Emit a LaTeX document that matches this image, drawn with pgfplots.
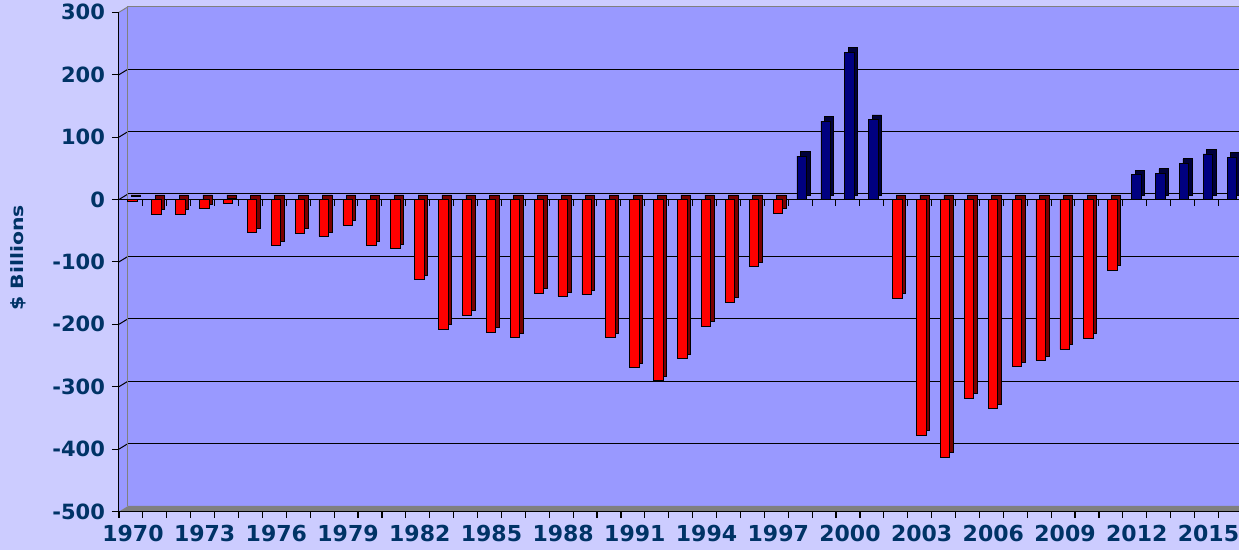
\documentclass[border=0pt]{standalone}
\usepackage{fontspec}
\setmainfont{DejaVu Sans}
\newfontfamily\ylabfont[FakeStretch=1.2]{DejaVu Sans}
\usepackage{pgfplots}
\pgfplotsset{compat=1.18}
\usepackage{pgfplotstable}
\definecolor{bgcol}{HTML}{CCCCFF}
\definecolor{wallcol}{HTML}{9999FF}
\definecolor{txtcol}{HTML}{003366}
\definecolor{barred}{HTML}{FF0000}
\definecolor{barreddk}{HTML}{7A0000}
\definecolor{barblue}{HTML}{000080}
\definecolor{barbluedk}{HTML}{00003A}
\definecolor{floorcol}{HTML}{808080}

% idx = year - 1970
\pgfplotstableread{
idx year val
0 1970 -2.8
1 1971 -23.0
2 1972 -23.4
3 1973 -14.9
4 1974 -6.1
5 1975 -53.2
6 1976 -73.7
7 1977 -53.7
8 1978 -59.2
9 1979 -40.7
10 1980 -73.8
11 1981 -79.0
12 1982 -128.0
13 1983 -207.8
14 1984 -185.4
15 1985 -212.3
16 1986 -221.2
17 1987 -149.7
18 1988 -155.2
19 1989 -152.6
20 1990 -221.0
21 1991 -269.2
22 1992 -290.3
23 1993 -255.1
24 1994 -203.2
25 1995 -164.0
26 1996 -107.4
27 1997 -21.9
32 2002 -157.8
33 2003 -377.6
34 2004 -412.7
35 2005 -318.0
36 2006 -335.0
37 2007 -268.0
38 2008 -258.0
39 2009 -240.0
40 2010 -222.0
41 2011 -113.0
}\negdata

\pgfplotstableread{
idx year val
28 1998 69.3
29 1999 125.6
30 2000 236.2
31 2001 128.2
42 2012 40.0
43 2013 42.0
44 2014 58.0
45 2015 73.0
46 2016 68.0
}\posdata

\begin{document}
\begin{tikzpicture}
\fill[bgcol] (-59.5pt,-19.25pt) rectangle (560pt,255.75pt);
\fill[wallcol] (0,0) -- (4.5pt,2.75pt) -- (4.5pt,252.35pt) -- (0,249.6pt) -- cycle;
\fill[wallcol] (4.5pt,2.75pt) rectangle (566pt,252.35pt);
% back-wall grid lines (every 100 from -400 to 200), shifted into depth
\foreach \k in {1,...,7} {
  \draw[black, line width=0.5pt] (4.5pt,{2.75pt+\k*31.2pt}) -- (566pt,{2.75pt+\k*31.2pt});
  \draw[black, line width=0.5pt] (0pt,{\k*31.2pt}) -- ++(4.5pt,2.75pt);
}
\fill[floorcol] (0,0) -- (4.5pt,2.75pt) -- (566pt,2.75pt) -- (566pt,0) -- cycle;
\draw[floorcol, line width=0.5pt] (4.5pt,2.75pt) -- (4.5pt,252.35pt) -- (566pt,252.35pt);
\draw[floorcol, line width=0.5pt] (0pt,249.6pt) -- ++(4.5pt,2.75pt);
% category tick marks below the floor
\foreach \k in {0,...,47} {
  \draw[black, line width=0.6pt] ({\k*11.95pt},0pt) -- ++(0pt,-3.5pt);
}
\begin{axis}[
  scale only axis, width=561.65pt, height=249.6pt,
  at={(0,0)}, anchor=south west,
  xmin=-0.5, xmax=46.5, ymin=-500, ymax=300,
  clip=false,
  axis lines*=left,
  axis line style={black, line width=0.5pt},
  ytick={-500,-400,...,300},
  yticklabels={-500,-400,-300,-200,-100,0,100,200,300},
  xtick={0,3,...,45},
  xticklabels={1970,1973,1976,1979,1982,1985,1988,1991,1994,1997,2000,2003,2006,2009,2012,2015},
  xtick style={draw=none},
  ytick style={black, line width=0.5pt},
  tick align=outside,
  major tick length=3.5pt,
  xticklabel style={font=\bfseries\fontsize{11}{13}\selectfont, text=txtcol, inner sep=1pt, xshift=1pt, yshift=-2.2pt},
  yticklabel style={font=\bfseries\fontsize{10.5}{12}\selectfont, text=txtcol},
]
\draw[black, line width=0.5pt] (axis cs:-0.5,0) -- (axis cs:46.5,0);
\foreach \x in {-0.5,0.5,...,46.5} {
  \edef\tmp{\noexpand\draw[black, line width=0.5pt] (axis cs:\x,0) -- ++(0pt,-3.5pt);}\tmp
}
\addplot[ybar, bar width=4.7pt, bar shift=0.75pt, fill=barreddk, draw=black, line width=0.3pt, xshift=1.75pt, yshift=2.25pt] table[x=idx,y=val]{\negdata};
\addplot[ybar, bar width=4.7pt, bar shift=0.75pt, fill=barred, draw=black, line width=0.3pt] table[x=idx,y=val]{\negdata};
\addplot[ybar, bar width=4.7pt, bar shift=0.75pt, fill=barbluedk, draw=black, line width=0.3pt, xshift=1.75pt, yshift=2.25pt] table[x=idx,y=val]{\posdata};
\addplot[ybar, bar width=4.7pt, bar shift=0.75pt, fill=barblue, draw=black, line width=0.3pt] table[x=idx,y=val]{\posdata};
\end{axis}
\node[rotate=90, font=\ylabfont\bfseries\fontsize{8.5}{10}\selectfont, text=txtcol] at (-50.35pt,126.75pt) {\$ Billions};
\pgfresetboundingbox
\path (-59.5pt,-19.25pt) rectangle (560pt,255.75pt);
\end{tikzpicture}
\end{document}
